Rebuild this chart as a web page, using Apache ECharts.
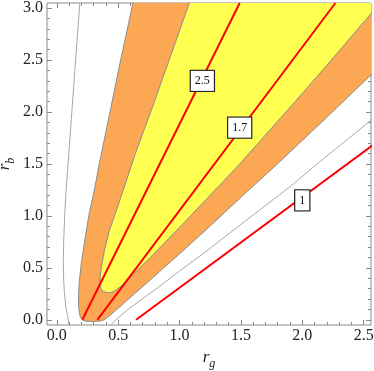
<!DOCTYPE html>
<html>
<head>
<meta charset="utf-8">
<script src="https://cdn.jsdelivr.net/npm/echarts@6/dist/echarts.min.js"></script>
<style>
  html, body { margin: 0; padding: 0; background: #fff; }
  #chart { width: 374px; height: 371px; }
</style>
</head>
<body>
<div id="chart"></div>
<script>
// plot range
var X_MIN = -0.08, X_MAX = 2.56, Y_MIN = -0.05, Y_MAX = 3.05;

var xMajor = [0, 0.5, 1, 1.5, 2, 2.5];
var yMajor = [0, 0.5, 1, 1.5, 2, 2.5, 3];

// outer thin gray contour (left and right arms)
var grayLeft = [[0.19, 3.1], [0.187, 3.05], [0.147, 2.4], [0.118, 1.93], [0.091, 1.49], [0.074, 1.22],
  [0.064, 1.0], [0.056, 0.76], [0.053, 0.55], [0.056, 0.38], [0.063, 0.24], [0.075, 0.12],
  [0.087, 0.04], [0.10, -0.05], [0.12, -0.1]];
var grayRight = [[0.40, -0.1], [0.44, -0.05], [0.5, 0.02], [0.58, 0.10], [0.8, 0.29], [1.0, 0.47],
  [1.24, 0.68], [1.6, 1.01], [1.91, 1.29], [2.12, 1.50], [2.58, 1.94]];

// orange band outer edge
var orangeLeft = [[0.625, 3.08], [0.62, 3.05], [0.52, 2.5], [0.433, 2.0], [0.344, 1.49], [0.306, 1.25],
  [0.265, 1.03], [0.23, 0.78], [0.20, 0.55], [0.184, 0.38], [0.176, 0.23], [0.178, 0.12],
  [0.188, 0.04], [0.205, 0.0], [0.235, -0.013], [0.30, -0.018]];
var orangeRight = [[0.30, -0.018], [0.35, -0.012], [0.385, 0.0], [0.42, 0.03], [0.47, 0.08],
  [0.565, 0.18], [0.8, 0.425], [1.0, 0.635], [1.233, 0.885], [1.5, 1.18], [1.806, 1.51],
  [1.904, 1.62], [2.2, 1.95], [2.58, 2.38]];

// yellow core edge
var yellowLeft = [[1.09, 3.08], [1.08, 3.05], [0.93, 2.55], [0.78, 2.05], [0.64, 1.6], [0.556, 1.30],
  [0.49, 1.07], [0.43, 0.865], [0.39, 0.68], [0.366, 0.53], [0.353, 0.42], [0.352, 0.34],
  [0.362, 0.295], [0.38, 0.272]];
var yellowRight = [[0.38, 0.272], [0.41, 0.262], [0.44, 0.262], [0.48, 0.285], [0.53, 0.33],
  [0.59, 0.40], [0.8, 0.645], [1.0, 0.89], [1.25, 1.2], [1.49, 1.50], [1.904, 2.05],
  [2.2, 2.45], [2.58, 2.975]];

// red contour lines
var red25 = [[0.208, 0], [1.49, 3.05]];
var red17 = [[0.33, 0], [2.27, 3.05]];
var red1 = [[0.646, 0], [2.58, 1.685]];

// boxed labels on the red lines
var lineLabels = [[1.186, 2.30, '2.5'], [1.49, 1.85, '1.7'], [2.0, 1.15, '1']];

var serif = 'Liberation Serif, Times New Roman, serif';

function minorTicks(from, to) {
  var out = [];
  for (var i = Math.round(from * 10); i <= Math.round(to * 10); i++) out.push(i / 10);
  return out;
}
var xMinor = minorTicks(0, 2.5);
var yMinor = minorTicks(0, 3.0);

function axis(kind, pos, ticks, len, withLabels) {
  var a = {
    type: 'value',
    position: pos,
    min: kind === 'x' ? X_MIN : Y_MIN,
    max: kind === 'x' ? X_MAX : Y_MAX,
    axisLine: { show: false, onZero: false },
    splitLine: { show: false },
    axisTick: { show: true, inside: true, length: len, customValues: ticks,
      lineStyle: { color: '#8a8a8a', width: 1 } },
    axisLabel: { show: false }
  };
  if (withLabels) {
    a.axisLabel = {
      show: true,
      customValues: kind === 'x' ? xMajor : yMajor,
      formatter: function (v) { return v.toFixed(1); },
      fontFamily: serif, fontSize: 16, color: '#222',
      margin: kind === 'x' ? 3 : 4
    };
  }
  return a;
}

var nameRich = {
  i: { fontFamily: serif, fontStyle: 'italic', fontSize: 17, lineHeight: 24, color: '#222' },
  s: { fontFamily: serif, fontStyle: 'italic', fontSize: 12, color: '#222', verticalAlign: 'bottom' }
};

var xAxes = [axis('x', 'bottom', xMajor, 5, true), axis('x', 'bottom', xMinor, 3, false),
  axis('x', 'top', xMajor, 5, false), axis('x', 'top', xMinor, 3, false)];
var yAxes = [axis('y', 'left', yMajor, 5, true), axis('y', 'left', yMinor, 3, false),
  axis('y', 'right', yMajor, 5, false), axis('y', 'right', yMinor, 3, false)];

xAxes[0].name = '{i|r}{s|g}';
xAxes[0].nameLocation = 'middle';
xAxes[0].nameGap = 20;
xAxes[0].nameTextStyle = { rich: nameRich };
yAxes[0].name = '{i|r}{s|b}';
yAxes[0].nameLocation = 'middle';
yAxes[0].nameGap = 30;
yAxes[0].nameMoveOverlap = false;
yAxes[0].nameTextStyle = { rich: nameRich };

function polygon(points, fill, z) {
  return {
    type: 'custom',
    z: z,
    silent: true,
    clip: true,
    data: [0],
    renderItem: function (params, api) {
      var cs = params.coordSys;
      return {
        type: 'polygon',
        shape: { points: points.map(function (p) { return api.coord(p); }) },
        style: { fill: fill, stroke: null },
        clipPath: { type: 'rect', shape: { x: cs.x, y: cs.y, width: cs.width, height: cs.height } }
      };
    }
  };
}

function edge(points, color, width, z) {
  return {
    type: 'line',
    z: z,
    data: points,
    showSymbol: false,
    symbol: 'none',
    clip: true,
    silent: true,
    lineStyle: { color: color, width: width }
  };
}

var chart = echarts.init(document.getElementById('chart'));
chart.setOption({
  animation: false,
  backgroundColor: '#fff',
  grid: { left: 47, right: 3, top: 3, bottom: 46, containLabel: false, outerBoundsMode: 'none',
    show: true, borderColor: '#8a8a8a', borderWidth: 1 },
  xAxis: xAxes,
  yAxis: yAxes,
  series: [
    polygon(orangeLeft.concat(orangeRight, [[2.6, 3.1]]), '#fba753', 1),
    polygon(yellowLeft.concat(yellowRight, [[2.6, 3.1]]), '#ffff52', 2),
    edge(orangeLeft, '#8c8c8c', 1, 3),
    edge(orangeRight, '#8c8c8c', 1, 3),
    edge(yellowLeft, '#8c8c8c', 1, 3),
    edge(yellowRight, '#8c8c8c', 1, 3),
    edge(grayLeft, '#a8a8a8', 1, 3),
    edge(grayRight, '#a8a8a8', 1, 3),
    edge(red25, '#ff0000', 2, 4),
    edge(red17, '#ff0000', 2, 4),
    edge(red1, '#ff0000', 2, 4),
    {
      type: 'custom',
      z: 10,
      silent: true,
      data: lineLabels,
      renderItem: function (params, api) {
        var p = api.coord([api.value(0), api.value(1)]);
        return {
          type: 'text',
          x: p[0],
          y: p[1],
          z2: 100,
          style: {
            text: lineLabels[params.dataIndex][2],
            align: 'center',
            verticalAlign: 'middle',
            fontFamily: serif, fontSize: 12, lineHeight: 12, fill: '#111',
            backgroundColor: '#fff', borderColor: '#222', borderWidth: 1.2, padding: [4, 4, 4, 4]
          }
        };
      }
    }
  ]
});
</script>
</body>
</html>
